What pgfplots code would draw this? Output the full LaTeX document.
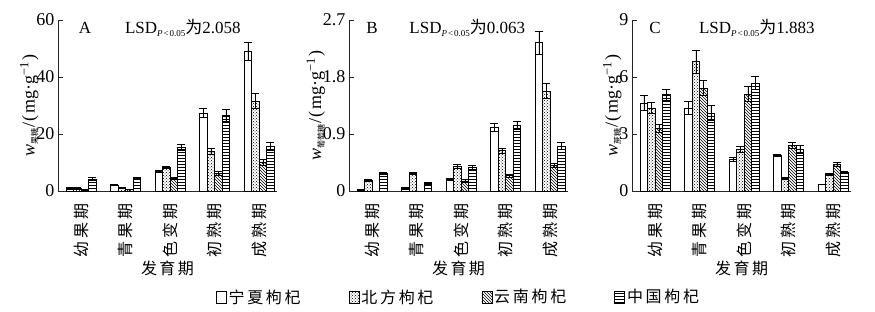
\documentclass[border=0pt]{standalone}
\usepackage{fontspec}
\setmainfont{Liberation Serif}
\newfontfamily\cjk{Noto Sans CJK SC}
\usepackage{pgfplots}
\pgfplotsset{compat=1.18}
\usepackage{pgfplotstable}
\usetikzlibrary{patterns}

\pgfplotstableread{
x a ae b be c ce d de
0 0.8 0.3 0.9 0.3 0.3 0.1 4.2 0.4
1 2.0 0.2 1.2 0.2 0.5 0.1 4.3 0.4
2 7.0 0.4 8.2 0.4 4.3 0.4 15.2 1.0
3 27.4 1.5 14.0 1.0 6.2 0.6 26.5 2.0
4 49.0 3.3 31.6 2.5 10.0 1.0 15.7 1.5
}\dataA
\pgfplotstableread{
x a ae b be c ce d de
0 0.01 0.01 0.17 0.02 0.00 0.00 0.28 0.02
1 0.04 0.01 0.28 0.02 0.00 0.00 0.12 0.01
2 0.18 0.02 0.39 0.03 0.16 0.02 0.37 0.03
3 1.00 0.06 0.64 0.04 0.24 0.02 1.04 0.06
4 2.34 0.18 1.58 0.12 0.41 0.03 0.71 0.05
}\dataB
\pgfplotstableread{
x a ae b be c ce d de
0 4.63 0.4 4.37 0.3 3.3 0.2 5.07 0.3
1 4.37 0.35 6.8 0.6 5.42 0.4 4.1 0.4
2 1.66 0.1 2.18 0.15 5.1 0.4 5.68 0.35
3 1.87 0.05 0.66 0.03 2.41 0.15 2.2 0.2
4 0.35 0.02 0.87 0.05 1.4 0.1 1.0 0.05
}\dataC

\newcommand\ylab[1]{\textit{w}\raisebox{-3pt}{\cjk\fontsize{8}{8}\selectfont #1}\kern1pt/\kern1pt(\kern1.5pt mg·g\textsuperscript{−1}\kern1.5pt)}
\newcommand\lsd[1]{LSD\raisebox{-3pt}{\fontsize{9}{9}\selectfont\textit{P}\kern1pt<\kern1pt0.05}{\cjk 为}#1}

\pgfplotsset{
  panel/.style={
    scale only axis, width=219pt, height=171pt,
    xmin=-0.52, xmax=4.4, ymin=0,
    ybar, bar width=7.5pt,
    axis x line=bottom, axis y line=left,
    axis line style={-, line width=0.8pt, black!85},
    tick align=inside, major tick length=5pt,
    ytick style={line width=0.8pt, black!85},
    xtick style={draw=none},
    xtick={0,1,2,3,4},
    xticklabels={幼\kern3pt果\kern3pt期,青\kern3pt果\kern3pt期,色\kern3pt变\kern3pt期,初\kern3pt熟\kern3pt期,成\kern3pt熟\kern3pt期},
    xticklabel style={font=\cjk\fontsize{16}{16}\selectfont, rotate=90, anchor=east, inner xsep=12pt},
    yticklabel style={font=\fontsize{18}{18}\selectfont},
    /pgf/number format/assume math mode=true,
    ylabel shift=-9pt,
    ylabel style={font=\fontsize{18}{18}\selectfont},
    xlabel={发\kern2.5pt育\kern2.5pt期},
    xlabel style={font=\cjk\fontsize{16}{16}\selectfont, at={(rel axis cs:0.5,0)}, anchor=center, yshift=-77pt},
    clip=false,
  },
  sA/.style={draw=black, line width=0.7pt, fill=white, bar shift=-11.25pt},
  sB/.style={draw=black, line width=0.7pt, pattern=crosshatch dots, bar shift=-3.75pt},
  sC/.style={draw=black, line width=0.7pt, pattern=north west lines, bar shift=3.75pt},
  sD/.style={draw=black, line width=0.7pt, pattern=horizontal lines, bar shift=11.25pt},
  eb/.style={error bars/.cd, y dir=both, y explicit, error mark=-,
    error bar style={line width=0.8pt, black},
    error mark options={line width=0.8pt, black, mark size=4pt, rotate=90}},
}

\begin{document}
\begin{tikzpicture}
\path[use as bounding box] (0,0) rectangle (875pt,312pt);

% Panel A
\begin{axis}[panel, at={(58pt,121pt)}, anchor=south west,
  ymax=60, ytick={0,20,40,60},
  ylabel={\ylab{果糖}}]
\addplot[sA, eb] table[x=x, y=a, y error=ae] {\dataA};
\addplot[sB, eb] table[x=x, y=b, y error=be] {\dataA};
\addplot[sC, eb] table[x=x, y=c, y error=ce] {\dataA};
\addplot[sD, eb] table[x=x, y=d, y error=de] {\dataA};
\node[font=\fontsize{17}{17}\selectfont] at (rel axis cs:0.123,0.955) {A};
\node[anchor=west, font=\fontsize{17}{17}\selectfont] at (rel axis cs:0.29,0.955) {\lsd{2.058}};
\end{axis}

% Panel B
\begin{axis}[panel, at={(349pt,121pt)}, anchor=south west,
  ymax=2.7, ytick={0,0.9,1.8,2.7},
  ylabel={\ylab{葡萄糖}},
  legend columns=4,
  legend style={at={(0.5,-0.62)}, anchor=center, draw=none, fill=none,
    font=\cjk\fontsize{16}{16}\selectfont,
    /tikz/every even column/.append style={column sep=46pt}},
  legend image code/.code={\draw[#1] (0pt,-6pt) rectangle (10pt,6pt);}]
\addplot[sA, eb] table[x=x, y=a, y error=ae] {\dataB};
\addlegendentry{宁\kern2.7pt夏\kern2.7pt枸\kern2.7pt杞}
\addplot[sB, eb] table[x=x, y=b, y error=be] {\dataB};
\addlegendentry{北\kern2.7pt方\kern2.7pt枸\kern2.7pt杞}
\addplot[sC, eb] table[x=x, y=c, y error=ce] {\dataB};
\addlegendentry{云\kern2.7pt南\kern2.7pt枸\kern2.7pt杞}
\addplot[sD, eb] table[x=x, y=d, y error=de] {\dataB};
\addlegendentry{中\kern2.7pt国\kern2.7pt枸\kern2.7pt杞}
\node[font=\fontsize{17}{17}\selectfont] at (rel axis cs:0.105,0.955) {B};
\node[anchor=west, font=\fontsize{17}{17}\selectfont] at (rel axis cs:0.26,0.955) {\lsd{0.063}};
\end{axis}

% Panel C
\begin{axis}[panel, at={(632pt,121pt)}, anchor=south west,
  ymax=9, ytick={0,3,6,9},
  ylabel={\ylab{蔗糖}}]
\addplot[sA, eb] table[x=x, y=a, y error=ae] {\dataC};
\addplot[sB, eb] table[x=x, y=b, y error=be] {\dataC};
\addplot[sC, eb] table[x=x, y=c, y error=ce] {\dataC};
\addplot[sD, eb] table[x=x, y=d, y error=de] {\dataC};
\node[font=\fontsize{17}{17}\selectfont] at (rel axis cs:0.105,0.955) {C};
\node[anchor=west, font=\fontsize{17}{17}\selectfont] at (rel axis cs:0.29,0.955) {\lsd{1.883}};
\end{axis}
\end{tikzpicture}
\end{document}
